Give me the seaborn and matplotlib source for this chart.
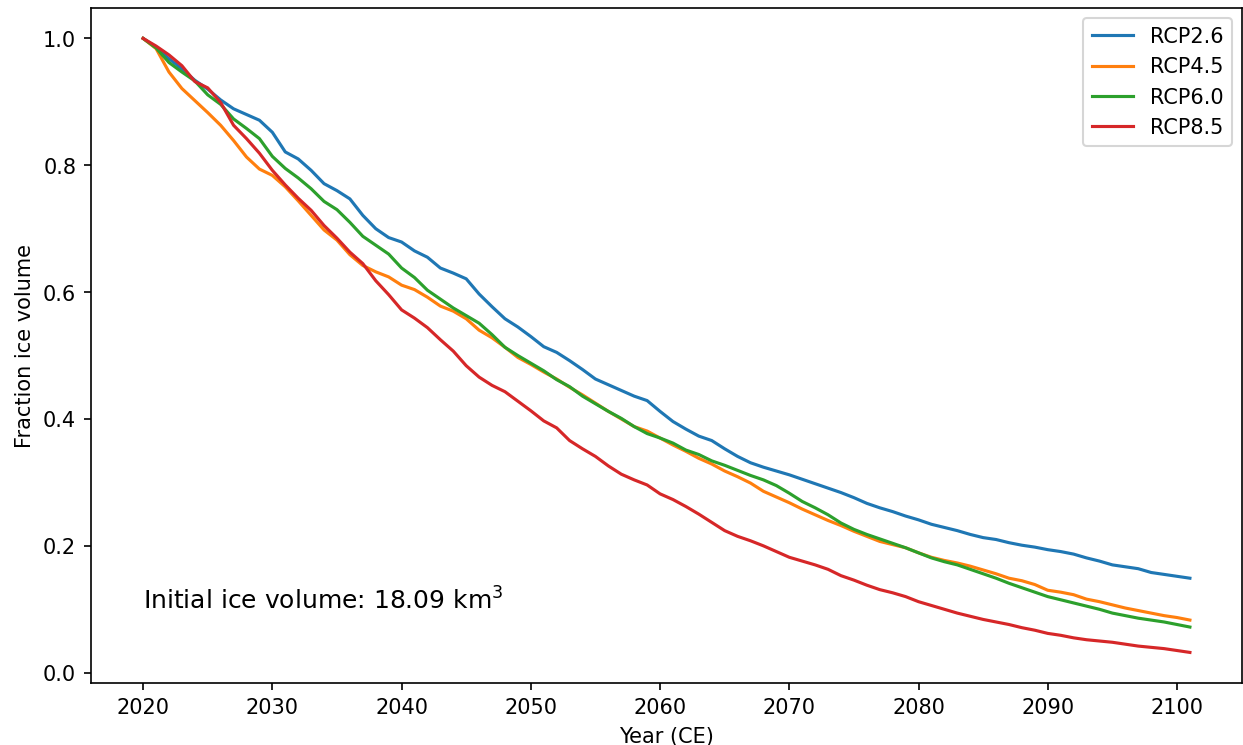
import numpy as np
import pandas as pd
import matplotlib
matplotlib.use("Agg")
import matplotlib.pyplot as plt
import seaborn as sns

years = np.arange(2020, 2102)

rcp26 = [1.000, 0.986, 0.968, 0.952, 0.934, 0.920, 0.903, 0.889, 0.880, 0.871,
         0.852, 0.821, 0.810, 0.792, 0.771, 0.760, 0.747, 0.721, 0.700, 0.686,
         0.679, 0.665, 0.655, 0.638, 0.630, 0.621, 0.597, 0.577, 0.558, 0.545,
         0.530, 0.514, 0.505, 0.492, 0.478, 0.463, 0.454, 0.445, 0.436, 0.429,
         0.412, 0.396, 0.384, 0.373, 0.366, 0.353, 0.341, 0.331, 0.324, 0.318,
         0.312, 0.305, 0.298, 0.291, 0.284, 0.276, 0.267, 0.260, 0.254, 0.247,
         0.241, 0.234, 0.229, 0.224, 0.218, 0.213, 0.210, 0.205, 0.201, 0.198,
         0.194, 0.191, 0.187, 0.181, 0.176, 0.170, 0.167, 0.164, 0.158, 0.155,
         0.152, 0.149]

rcp45 = [1.000, 0.984, 0.947, 0.921, 0.902, 0.883, 0.863, 0.839, 0.813, 0.794,
         0.784, 0.766, 0.744, 0.721, 0.698, 0.682, 0.659, 0.642, 0.632, 0.624,
         0.611, 0.604, 0.592, 0.578, 0.570, 0.558, 0.540, 0.528, 0.513, 0.497,
         0.486, 0.474, 0.463, 0.450, 0.438, 0.425, 0.412, 0.400, 0.388, 0.381,
         0.370, 0.359, 0.349, 0.338, 0.329, 0.318, 0.309, 0.299, 0.286, 0.277,
         0.268, 0.258, 0.249, 0.240, 0.232, 0.223, 0.215, 0.207, 0.202, 0.197,
         0.189, 0.182, 0.177, 0.173, 0.168, 0.162, 0.156, 0.149, 0.145, 0.139,
         0.130, 0.127, 0.123, 0.116, 0.112, 0.107, 0.102, 0.098, 0.094, 0.090,
         0.087, 0.083]

rcp60 = [1.000, 0.985, 0.962, 0.947, 0.933, 0.911, 0.896, 0.873, 0.858, 0.842,
         0.814, 0.795, 0.780, 0.763, 0.743, 0.730, 0.710, 0.688, 0.674, 0.660,
         0.638, 0.623, 0.603, 0.589, 0.575, 0.563, 0.551, 0.533, 0.513, 0.500,
         0.488, 0.476, 0.462, 0.451, 0.436, 0.424, 0.412, 0.401, 0.388, 0.377,
         0.370, 0.362, 0.351, 0.344, 0.334, 0.327, 0.319, 0.311, 0.304, 0.295,
         0.283, 0.270, 0.260, 0.249, 0.236, 0.226, 0.218, 0.211, 0.204, 0.197,
         0.189, 0.181, 0.175, 0.170, 0.163, 0.156, 0.149, 0.141, 0.134, 0.127,
         0.120, 0.115, 0.110, 0.105, 0.100, 0.094, 0.090, 0.086, 0.083, 0.080,
         0.076, 0.072]

rcp85 = [1.000, 0.988, 0.974, 0.957, 0.932, 0.922, 0.899, 0.863, 0.842, 0.819,
         0.792, 0.769, 0.748, 0.729, 0.705, 0.685, 0.663, 0.645, 0.618, 0.596,
         0.572, 0.559, 0.544, 0.525, 0.507, 0.484, 0.466, 0.453, 0.443, 0.428,
         0.413, 0.397, 0.386, 0.366, 0.353, 0.341, 0.326, 0.313, 0.304, 0.296,
         0.282, 0.273, 0.262, 0.250, 0.237, 0.224, 0.215, 0.208, 0.200, 0.191,
         0.182, 0.176, 0.170, 0.163, 0.153, 0.146, 0.138, 0.131, 0.126, 0.120,
         0.112, 0.106, 0.100, 0.094, 0.089, 0.084, 0.080, 0.076, 0.071, 0.067,
         0.062, 0.059, 0.055, 0.052, 0.050, 0.048, 0.045, 0.042, 0.040, 0.038,
         0.035, 0.032]

scenarios = ["RCP2.6", "RCP4.5", "RCP6.0", "RCP8.5"]
colors = ["#1f77b4", "#ff7f0e", "#2ca02c", "#d62728"]

frames = []
for name, vals in zip(scenarios, [rcp26, rcp45, rcp60, rcp85]):
    frames.append(pd.DataFrame({"year": years, "fraction": vals, "scenario": name}))
df = pd.concat(frames, ignore_index=True)

fig, ax = plt.subplots(figsize=(8.29, 4.97), dpi=150)
fig.subplots_adjust(left=0.073, right=0.999, top=0.989, bottom=0.083)

sns.lineplot(data=df, x="year", y="fraction", hue="scenario",
             palette=colors, linewidth=1.5, ax=ax)

handles, labels = ax.get_legend_handles_labels()
ax.legend(handles, labels, loc="upper right")

ax.text(2020, 0.1, "Initial ice volume: 18.09 km$^3$", fontsize=12)
ax.set_xlabel("Year (CE)")
ax.set_ylabel("Fraction ice volume")

fig.savefig("out.png", dpi=150)
plt.close(fig)
